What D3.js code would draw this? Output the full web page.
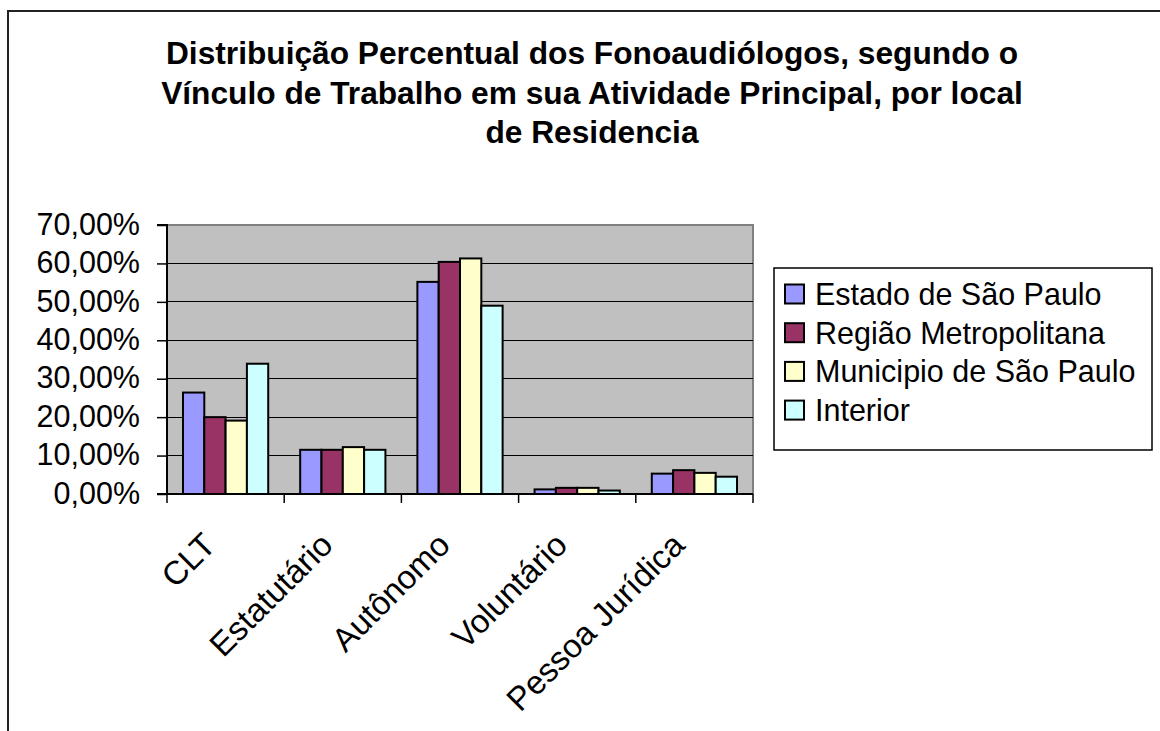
<!DOCTYPE html>
<html><head><meta charset="utf-8">
<script src="https://cdn.jsdelivr.net/npm/d3@7"></script>
<style>html,body{margin:0;padding:0;background:#fff;overflow:hidden}svg{display:block}</style>
</head><body>
<script>
const titleLines = ["Distribuição Percentual dos Fonoaudiólogos, segundo o",
  "Vínculo de Trabalho em sua Atividade Principal, por local",
  "de Residencia"];
const categories = ["CLT", "Estatutário", "Autônomo", "Voluntário", "Pessoa Jurídica"];
const seriesNames = ["Estado de São Paulo", "Região Metropolitana", "Municipio de São Paulo", "Interior"];
const estado = [26.4, 11.5, 55.2, 1.2, 5.3];
const regiao = [20.0, 11.5, 60.4, 1.6, 6.2];
const municipio = [19.1, 12.2, 61.3, 1.6, 5.5];
const interior = [33.9, 11.5, 49.0, 0.9, 4.5];
const yTicks = [0, 10, 20, 30, 40, 50, 60, 70];
const colors = ["#9999FF", "#993366", "#FFFFCC", "#CCFFFF"];
const seriesValues = [estado, regiao, municipio, interior];

const W = 1160, H = 731;
const svg = d3.select("body").append("svg").attr("width", W).attr("height", H);
const font = "'Liberation Sans', Arial, sans-serif";

// chart frame
svg.append("rect").attr("x", 8).attr("y", 11).attr("width", 1300).attr("height", 900)
  .attr("fill", "#fff").attr("stroke", "#222").attr("stroke-width", 2);

// title
svg.append("g").selectAll("text").data(titleLines).join("text")
  .attr("x", 592).attr("y", (d, i) => 64 + i * 39.5)
  .attr("text-anchor", "middle").attr("font-family", font).attr("font-weight", "bold")
  .attr("font-size", 31.7).attr("fill", "#000").text(d => d);

const plot = {l: 167, r: 753, t: 225, b: 494};
const x0 = d3.scaleBand().domain(categories).range([plot.l, plot.r]).paddingInner(0).paddingOuter(0);
const x1 = d3.scaleBand().domain(seriesNames).range([0, x0.bandwidth()]).paddingInner(0).paddingOuter(0.75);
const y = d3.scaleLinear().domain([0, 70]).range([plot.b, plot.t]);

// plot bg
svg.append("rect").attr("x", plot.l).attr("y", plot.t).attr("width", plot.r - plot.l).attr("height", plot.b - plot.t)
  .attr("fill", "#C0C0C0").attr("stroke", "#808080").attr("stroke-width", 2);

// gridlines
svg.append("g").selectAll("line").data(yTicks.filter(d => d > 0 && d < 70)).join("line")
  .attr("x1", plot.l).attr("x2", plot.r).attr("y1", d => y(d)).attr("y2", d => y(d))
  .attr("stroke", "#000").attr("stroke-width", 1).attr("shape-rendering", "crispEdges");

// bars
const bars = [];
categories.forEach((c, ci) => seriesNames.forEach((s, si) => bars.push({c, s, si, v: seriesValues[si][ci]})));
svg.append("g").selectAll("rect").data(bars).join("rect")
  .attr("x", d => x0(d.c) + x1(d.s)).attr("width", x1.bandwidth())
  .attr("y", d => y(d.v)).attr("height", d => y(0) - y(d.v))
  .attr("fill", d => colors[d.si]).attr("stroke", "#000").attr("stroke-width", 2);

// y axis
const yAxis = d3.axisLeft(y).tickValues(yTicks).tickSize(10).tickPadding(17)
  .tickFormat(d => d3.format(".2f")(d).replace(".", ",") + "%");
const gy = svg.append("g").attr("transform", `translate(${plot.l},0)`).call(yAxis);
gy.select(".domain").attr("stroke", "#000").attr("stroke-width", 2).attr("d", `M-10,${plot.t}H0V${plot.b}H-10`);
gy.selectAll(".tick line").attr("stroke", "#000").attr("stroke-width", 1.5);
gy.selectAll("text").attr("font-family", font).attr("font-size", 30.5).attr("fill", "#000").attr("dy", "0.3em");

// x axis
const boundaries = categories.map(c => x0(c)).concat([plot.r]);
svg.append("line").attr("x1", plot.l).attr("x2", plot.r).attr("y1", plot.b).attr("y2", plot.b)
  .attr("stroke", "#000").attr("stroke-width", 2);
svg.append("g").selectAll("line").data(boundaries).join("line")
  .attr("x1", d => d).attr("x2", d => d).attr("y1", plot.b).attr("y2", plot.b + 9)
  .attr("stroke", "#000").attr("stroke-width", 1.5);
svg.append("g").selectAll("text").data(categories).join("text")
  .attr("transform", d => `translate(${x0(d) + x0.bandwidth() / 2 - 8},547) rotate(-45)`)
  .attr("text-anchor", "end").attr("font-family", font).attr("font-size", 33).attr("fill", "#000")
  .text(d => d);

// legend
const lg = svg.append("g");
lg.append("rect").attr("x", 774).attr("y", 268).attr("width", 378).attr("height", 182)
  .attr("fill", "#fff").attr("stroke", "#000").attr("stroke-width", 1.5);
const items = lg.selectAll("g").data(seriesNames).join("g")
  .attr("transform", (d, i) => `translate(0,${294 + i * 38.7})`);
items.append("rect").attr("x", 785).attr("y", -9.5).attr("width", 19).attr("height", 19)
  .attr("fill", (d, i) => colors[i]).attr("stroke", "#000").attr("stroke-width", 2);
items.append("text").attr("x", 815).attr("y", 11).attr("font-family", font).attr("font-size", 30.5)
  .attr("fill", "#000").text(d => d);
</script>
</body></html>
